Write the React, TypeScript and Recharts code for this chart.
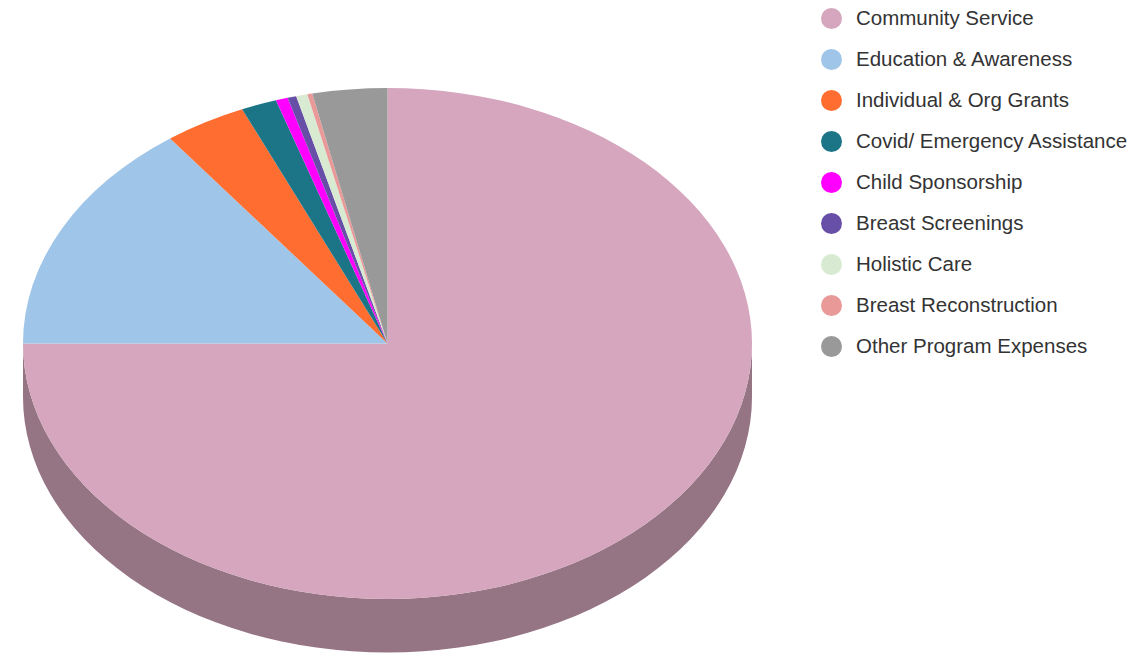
import React from "react";
import { Legend, Pie, PieChart } from "recharts";

const programs = [
  "Community Service",
  "Education & Awareness",
  "Individual & Org Grants",
  "Covid/ Emergency Assistance",
  "Child Sponsorship",
  "Breast Screenings",
  "Holistic Care",
  "Breast Reconstruction",
  "Other Program Expenses",
];
const shares = [75.0, 14.83, 3.64, 1.58, 0.53, 0.39, 0.5, 0.22, 3.31];
const colors = ["#D5A6BD", "#9FC5E8", "#FF6D31", "#1C7587", "#FF00FF", "#674EA7", "#D9EAD3", "#EA9999", "#999999"];
const sideColors = ["#957484", "#6F8AA2", "#B34C22", "#14525F", "#B300B3", "#483775", "#98A494", "#A46B6B", "#6B6B6B"];

const topData = programs.map((name, i) => ({ name, value: shares[i], fill: colors[i] }));
const sideData = programs.map((name, i) => ({ name, value: shares[i], fill: sideColors[i] }));

const SQUASH = 0.701;
const DEPTH = 53.5;
const RAD = Math.PI / 180;

const px = (cx: number, r: number, a: number) => cx + r * Math.cos(a * RAD);
const py = (cy: number, r: number, a: number) => cy - SQUASH * r * Math.sin(a * RAD);

// recharts sectors are circular, so the tilted top is drawn as an elliptical wedge
function TopSlice({ cx, cy, outerRadius: r, startAngle, endAngle, fill }: any) {
  const large = Math.abs(startAngle - endAngle) > 180 ? 1 : 0;
  const d = `M${cx},${cy} L${px(cx, r, startAngle)},${py(cy, r, startAngle)} A${r},${r * SQUASH} 0 ${large} 1 ${px(cx, r, endAngle)},${py(cy, r, endAngle)} Z`;
  return <path d={d} fill={fill} stroke="none" />;
}

// outer wall, only the part of a slice on the lower half of the ellipse shows
function SideSlice({ cx, cy, outerRadius: r, startAngle, endAngle, fill }: any) {
  const a1 = Math.min(startAngle, 0);
  const a2 = Math.max(endAngle, -180);
  if (a1 <= a2) return null;
  const d = `M${px(cx, r, a1)},${py(cy, r, a1)} A${r},${r * SQUASH} 0 0 1 ${px(cx, r, a2)},${py(cy, r, a2)} L${px(cx, r, a2)},${py(cy, r, a2) + DEPTH} A${r},${r * SQUASH} 0 0 0 ${px(cx, r, a1)},${py(cy, r, a1) + DEPTH} Z`;
  return <path d={d} fill={fill} stroke="none" />;
}

function LegendList({ payload }: any) {
  // the wall pie reports its slices too, keep only the top ones
  const items = (payload || []).filter((p: any) => colors.includes(p.color));
  return (
    <div>
      {items.map((p: any) => (
        <div key={p.value} style={{ display: "flex", alignItems: "center", height: 41 }}>
          <span style={{ width: 21, height: 21, borderRadius: "50%", background: p.color, marginRight: 14 }} />
          <span style={{ fontSize: 20.5, color: "#333333", whiteSpace: "nowrap", position: "relative", top: -1 }}>{p.value}</span>
        </div>
      ))}
    </div>
  );
}

export default function App() {
  return (
    <div style={{ position: "absolute", left: 0, top: 0, width: 1145, height: 653, background: "#fff", fontFamily: "'Liberation Sans', Arial, sans-serif" }}>
      <PieChart width={1145} height={653} margin={{ top: 0, right: 0, bottom: 0, left: 0 }}>
        <Pie
          data={sideData}
          dataKey="value"
          nameKey="name"
          cx={387.5}
          cy={343.5}
          outerRadius={364.5}
          startAngle={90}
          endAngle={-270}
          legendType="none"
          shape={SideSlice}
          isAnimationActive={false}
        />
        <Pie
          data={topData}
          dataKey="value"
          nameKey="name"
          cx={387.5}
          cy={343.5}
          outerRadius={364.5}
          startAngle={90}
          endAngle={-270}
          shape={TopSlice}
          isAnimationActive={false}
        />
        <Legend
          layout="vertical"
          align="right"
          verticalAlign="top"
          content={<LegendList />}
          itemSorter={null}
          wrapperStyle={{ left: 821, top: -2, width: 324 }}
        />
      </PieChart>
    </div>
  );
}
